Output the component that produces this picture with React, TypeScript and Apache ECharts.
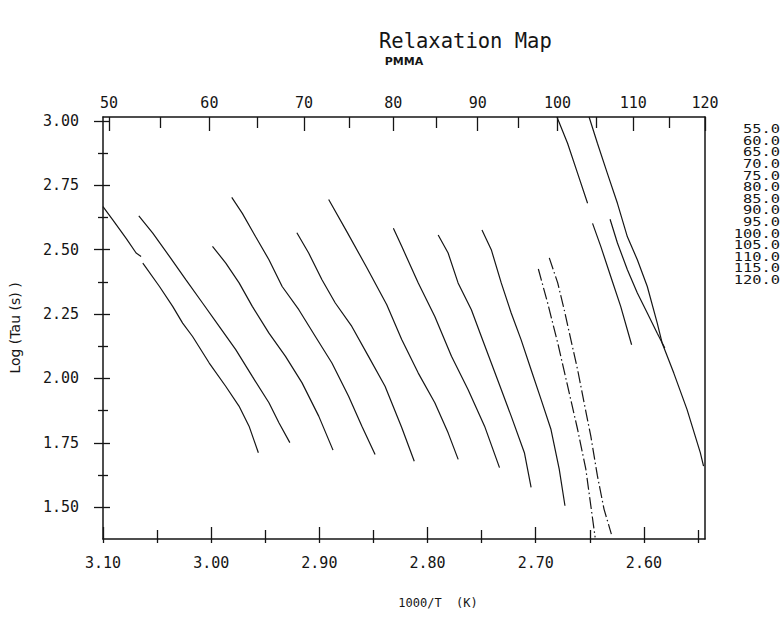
import React, { useEffect, useRef } from "react";
import * as echarts from "echarts";

// ---------- data ----------
const seriesNames = ["55.0", "60.0", "65.0", "70.0", "75.0", "80.0", "85.0", "90.0", "95.0", "100.0", "105.0", "110.0", "115.0", "120.0"];

const curve55 = [[3.1, 2.667], [3.0908, 2.615], [3.0786, 2.544], [3.0694, 2.487], [3.0648, 2.474], null, [3.0632, 2.448], [3.0478, 2.357], [3.0356, 2.28], [3.0264, 2.215], [3.0172, 2.163], [3.0018, 2.06], [2.9866, 1.97], [2.9743, 1.893], [2.965, 1.815], [2.9564, 1.712]];
const curve60 = [[3.0669, 2.631], [3.054, 2.564], [3.0386, 2.474], [3.0233, 2.383], [3.008, 2.293], [2.9926, 2.202], [2.9773, 2.112], [2.962, 2.008], [2.9466, 1.906], [2.9374, 1.828], [2.9273, 1.751]];
const curve65 = [[2.9988, 2.513], [2.9865, 2.448], [2.9742, 2.371], [2.962, 2.28], [2.9466, 2.176], [2.9313, 2.086], [2.916, 1.983], [2.9006, 1.854], [2.8874, 1.722]];
const curve70 = [[2.981, 2.703], [2.9712, 2.641], [2.9589, 2.55], [2.9466, 2.461], [2.9344, 2.357], [2.919, 2.267], [2.9037, 2.163], [2.8884, 2.06], [2.873, 1.931], [2.8607, 1.815], [2.8485, 1.705]];
const curve75 = [[2.9208, 2.566], [2.9099, 2.487], [2.8976, 2.383], [2.8853, 2.293], [2.87, 2.202], [2.8546, 2.086], [2.8393, 1.97], [2.8239, 1.81], [2.8123, 1.679]];
const curve80 = [[2.8914, 2.695], [2.8745, 2.569], [2.8561, 2.43], [2.8377, 2.286], [2.8239, 2.151], [2.8086, 2.021], [2.7933, 1.906], [2.781, 1.789], [2.7717, 1.686]];
const curve85 = [[2.8316, 2.583], [2.8239, 2.513], [2.8086, 2.371], [2.7933, 2.241], [2.7779, 2.086], [2.7626, 1.957], [2.7473, 1.815], [2.7335, 1.654]];
const curve90 = [[2.7902, 2.557], [2.781, 2.487], [2.7718, 2.371], [2.7595, 2.267], [2.7503, 2.163], [2.7411, 2.06], [2.7319, 1.957], [2.7227, 1.854], [2.7105, 1.712], [2.7043, 1.577]];
const curve95 = [[2.7497, 2.576], [2.7411, 2.5], [2.7319, 2.371], [2.7227, 2.254], [2.7135, 2.15], [2.7043, 2.034], [2.6951, 1.919], [2.6859, 1.802], [2.6783, 1.648], [2.673, 1.506]];
const curve100 = [[2.6976, 2.425], [2.689, 2.293], [2.6797, 2.138], [2.6705, 1.97], [2.6613, 1.802], [2.6537, 1.648], [2.6451, 1.383]];
const curve105 = [[2.6875, 2.468], [2.6797, 2.371], [2.6737, 2.267], [2.6675, 2.15], [2.6613, 2.034], [2.6553, 1.906], [2.6491, 1.776], [2.643, 1.622], [2.6369, 1.493], [2.6301, 1.396]];
const curve110 = [[2.6804, 3.015], [2.6706, 2.913], [2.6613, 2.796], [2.6521, 2.68], null, [2.6475, 2.602], [2.6399, 2.513], [2.6307, 2.396], [2.6215, 2.28], [2.6114, 2.131]];
const curve115 = [[2.6507, 3.015], [2.643, 2.913], [2.6338, 2.796], [2.6245, 2.68], [2.6153, 2.55], [2.6061, 2.461], [2.5969, 2.357], [2.5877, 2.215], [2.5832, 2.138], [2.5724, 2.021], [2.5602, 1.88], [2.5479, 1.712], [2.5449, 1.66]];
const curve120 = [[2.6313, 2.618], [2.6245, 2.526], [2.6153, 2.422], [2.6061, 2.332], [2.5969, 2.254], [2.5877, 2.176], [2.5807, 2.118]];

const curves = [curve55, curve60, curve65, curve70, curve75, curve80, curve85, curve90, curve95, curve100, curve105, curve110, curve115, curve120];
const dashDotCurves = ["100.0", "105.0"];

const bottomMajorTicks = [3.1, 3.0, 2.9, 2.8, 2.7, 2.6];
const bottomMinorTicks = [3.05, 2.95, 2.85, 2.75, 2.65, 2.55];
const topMajorTemps = [50, 60, 70, 80, 90, 100, 110, 120];
const topMinorTemps = [55, 65, 75, 85, 95, 105, 115];
const yMajorTicks = [3.0, 2.75, 2.5, 2.25, 2.0, 1.75, 1.5];
const yMinorTicks = [2.875, 2.625, 2.375, 2.125, 1.875, 1.625, 1.375];

// ---------- chart ----------
const INK = "#151515";
const MONO = '"DejaVu Sans Mono", monospace';
const SANS = '"DejaVu Sans", sans-serif';
const toInvT = (t: number) => 1000 / (t + 273.15);
const X_MIN = toInvT(120);
const X_MAX = 3.1;
const Y_MIN = 1.377;
const Y_MAX = 3.015;

export default function App() {
  const ref = useRef<HTMLDivElement>(null);
  useEffect(() => {
    if (!ref.current) return;
    const chart = echarts.init(ref.current, undefined, { renderer: "svg" });
    const tickLine = { color: INK, width: 1.3 };
    const baseX: any = {
      type: "value", min: X_MIN, max: X_MAX, inverse: true,
      splitLine: { show: false }, axisLine: { show: false }, axisLabel: { show: false }, axisTick: { show: false },
    };
    const baseY: any = {
      type: "value", min: Y_MIN, max: Y_MAX,
      splitLine: { show: false }, axisLine: { show: false }, axisLabel: { show: false }, axisTick: { show: false },
    };
    const labelStyle = { fontFamily: MONO, fontSize: 15, color: INK };
    const legendTexts = seriesNames.map((name, i) => ({
      type: "text",
      x: 780,
      y: 129 + i * 11.6,
      scaleX: 1.35,
      style: {
        text: name,
        fontFamily: MONO,
        fontSize: 11.4,
        fill: INK,
        textAlign: "right",
        textVerticalAlign: "middle",
      },
    }));
    const option: any = {
      animation: false,
      backgroundColor: "#ffffff",
      title: {
        text: "Relaxation Map", left: 379, top: 30, padding: 0,
        textStyle: { fontFamily: MONO, fontSize: 20.5, fontWeight: "normal", color: INK },
      },
      graphic: legendTexts,
      grid: { left: 101, right: 79, top: 117, bottom: 86 },
      xAxis: [
        {
          ...baseX, position: "bottom",
          axisLine: { show: true, onZero: false, lineStyle: { color: INK, width: 1.5 } },
          axisTick: { show: true, inside: true, length: 12, customValues: bottomMajorTicks, lineStyle: tickLine },
          axisLabel: { show: true, customValues: bottomMajorTicks, formatter: (v: number) => v.toFixed(2), margin: 16, ...labelStyle },
          name: "1000/T  (K)", nameLocation: "middle", nameGap: 58,
          nameTextStyle: { fontFamily: MONO, fontSize: 12, color: INK, padding: [0, 0, 0, 68] },
        },
        { ...baseX, position: "bottom", axisTick: { show: true, inside: true, length: 9, customValues: bottomMinorTicks, lineStyle: tickLine } },
        { ...baseX, position: "bottom", axisTick: { show: true, inside: false, length: 4, customValues: [...bottomMajorTicks, ...bottomMinorTicks], lineStyle: tickLine } },
        {
          ...baseX, position: "top",
          axisLine: { show: true, onZero: false, lineStyle: { color: INK, width: 1.5 } },
          axisTick: { show: true, inside: true, length: 14, customValues: topMajorTemps.map(toInvT), lineStyle: tickLine },
          axisLabel: { show: true, customValues: topMajorTemps.map(toInvT), formatter: (v: number) => String(Math.round(1000 / v - 273.15)), margin: 7, ...labelStyle },
          name: "PMMA", nameLocation: "middle", nameGap: 50,
          nameTextStyle: { fontFamily: SANS, fontSize: 11, fontWeight: "bold", color: INK },
        },
        { ...baseX, position: "top", axisTick: { show: true, inside: true, length: 11, customValues: topMinorTemps.map(toInvT), lineStyle: tickLine } },
      ],
      yAxis: [
        {
          ...baseY, position: "left",
          axisLine: { show: true, onZero: false, lineStyle: { color: INK, width: 1.5 } },
          axisTick: { show: true, inside: false, length: 9, customValues: yMajorTicks, lineStyle: tickLine },
          axisLabel: { show: true, customValues: yMajorTicks, formatter: (v: number) => v.toFixed(2), margin: 24, ...labelStyle },
          name: "Log (Tau (s) )", nameLocation: "middle", nameRotate: 90, nameGap: 81,
          nameTextStyle: { fontFamily: SANS, fontSize: 14, color: INK },
        },
        { ...baseY, position: "left", axisTick: { show: true, inside: true, length: 7, customValues: yMajorTicks, lineStyle: tickLine } },
        { ...baseY, position: "left", axisTick: { show: true, inside: false, length: 5, customValues: yMinorTicks, lineStyle: tickLine } },
        { ...baseY, position: "left", axisTick: { show: true, inside: true, length: 5, customValues: yMinorTicks, lineStyle: tickLine } },
        { ...baseY, position: "right", axisLine: { show: true, onZero: false, lineStyle: { color: INK, width: 1.5 } } },
      ],
      series: curves.map((data, i) => ({
        type: "line",
        name: seriesNames[i],
        data,
        xAxisIndex: 0,
        yAxisIndex: 0,
        showSymbol: false,
        symbol: "none",
        connectNulls: false,
        silent: true,
        lineStyle: {
          color: INK,
          width: 1.2,
          type: dashDotCurves.includes(seriesNames[i]) ? [12, 3, 1.5, 3] : "solid",
        },
      })),
    };
    chart.setOption(option);
    return () => chart.dispose();
  }, []);
  return (
    <div
      ref={ref}
      style={{ position: "fixed", left: 0, top: 0, width: 784, height: 625, background: "#fff" }}
    />
  );
}
